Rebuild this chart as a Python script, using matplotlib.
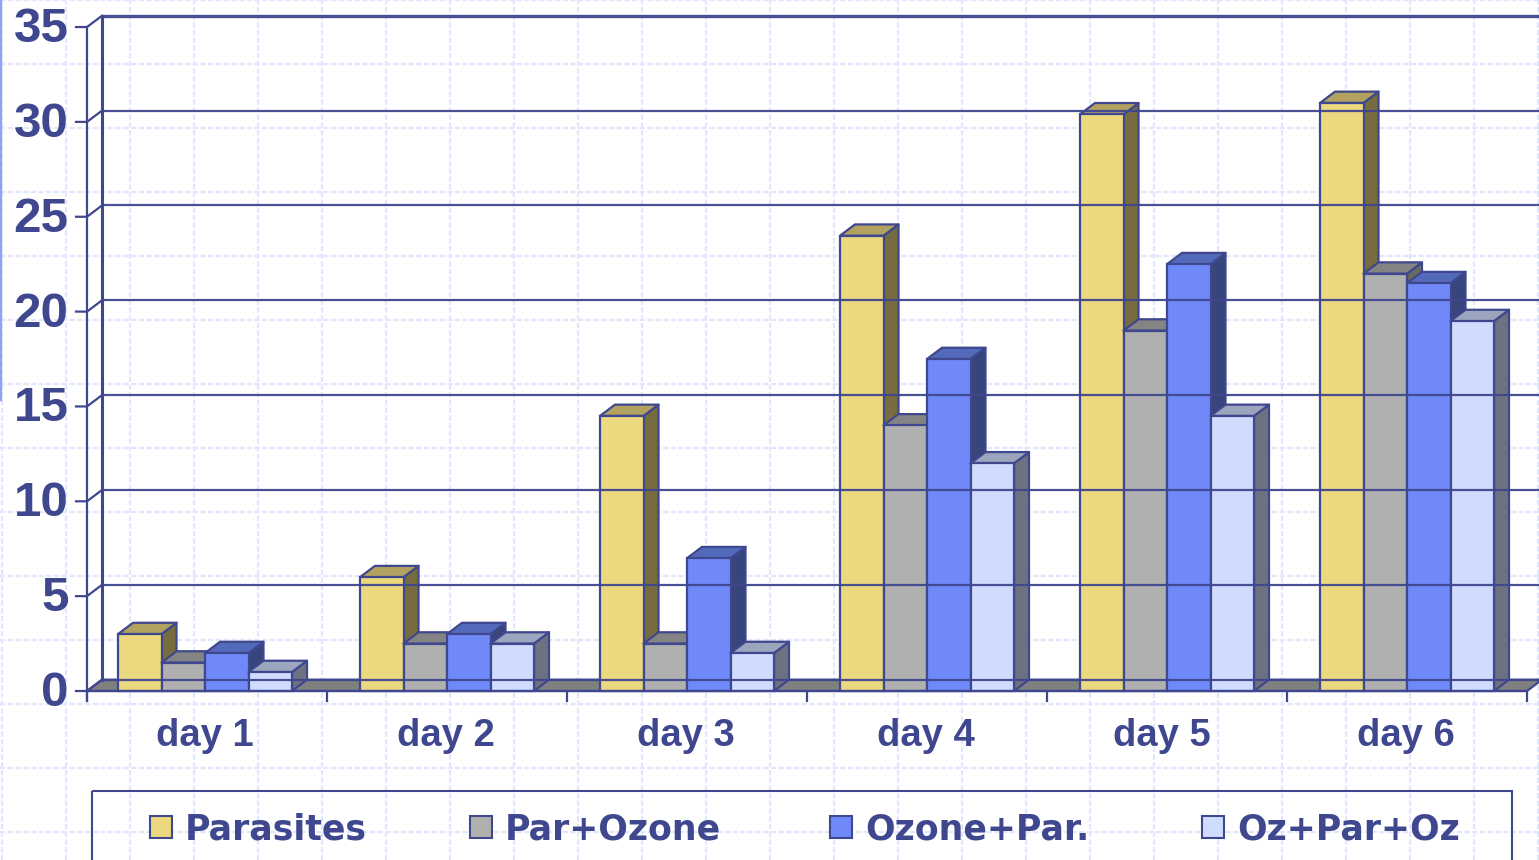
import matplotlib
matplotlib.use('Agg')
import matplotlib.pyplot as plt
from matplotlib.patches import Polygon, Rectangle

days = ['day 1', 'day 2', 'day 3', 'day 4', 'day 5', 'day 6']
parasites = [3, 6, 14.5, 24, 30.4, 31]
par_ozone = [1.5, 2.5, 2.5, 14, 19, 22]
ozone_par = [2, 3, 7, 17.5, 22.5, 21.5]
oz_par_oz = [1, 2.5, 2, 12, 14.5, 19.5]
names = ['Parasites', 'Par+Ozone', 'Ozone+Par.', 'Oz+Par+Oz']
yticks = [0, 5, 10, 15, 20, 25, 30, 35]

INK = '#3f478f'
# front, top, side
colors = [
    ('#ecd87f', '#b2a25f', '#776c40'),
    ('#b0b0b0', '#848484', '#6a6a5c'),
    ('#6f8af8', '#5369ba', '#38457c'),
    ('#cfdcfd', '#9ba5be', '#6e7280'),
]

W, H = 1539, 860
X0, Y0 = 87, 691       # pixel of the origin
XS, YS = 240, 18.97    # pixels per category / per unit
DX, DY = 15 / XS, 11.3 / YS  # depth of the 3d look
LW = 1.6

fig = plt.figure(figsize=(W / 100, H / 100), dpi=100, facecolor='white')

# background paper, legend: plain pixel coordinates
bg = fig.add_axes([0, 0, 1, 1])
bg.set_xlim(0, W)
bg.set_ylim(H, 0)
bg.axis('off')
for x in range(2, W, 64):
    bg.axvline(x, color='#dfe6fe', lw=1.5, ls=(0, (2.5, 1.2)))
for y in range(0, H, 64):
    bg.axhline(y, color='#dfe6fe', lw=1.5, ls=(0, (2.5, 1.2)))
bg.plot([1, 1], [0, 400], color='#8ea3f5', lw=1.6)

# chart axes in data units
ax = fig.add_axes([0, 0, 1, 1])
ax.patch.set_alpha(0)
ax.set_xlim(-X0 / XS, (W - X0) / XS)
ax.set_ylim((Y0 - H) / YS, Y0 / YS)
ax.axis('off')

n = len(days)

# floor
ax.add_patch(Polygon([(0, 0), (DX, DY), (n + DX, DY), (n, 0)], fc='#808080', ec=INK, lw=LW))

# walls, grid
for t in yticks:
    lw = 2.4 if t == 35 else LW
    ax.plot([DX, n + 1], [t + DY, t + DY], color=INK, lw=lw, alpha=0.95, solid_capstyle='butt')
    ax.plot([-11 / XS, 0, DX], [t, t, t + DY], color=INK, lw=LW)
    ax.text(-18.5 / XS, t - 2.5 / YS, str(t), ha='right', va='center', color=INK,
            fontsize=35.5, fontweight='bold', family='Liberation Sans')
ax.plot([DX, DX], [0 + DY, 35 + DY], color=INK, lw=2.2)
ax.plot([0, 0], [-10 / YS, 35], color=INK, lw=LW)


def draw_bar(x, w, h, cols):
    front, top, side = cols
    ax.add_patch(Polygon([(x + w, 0), (x + w + DX, DY), (x + w + DX, h + DY), (x + w, h)],
                         fc=side, ec=INK, lw=LW, joinstyle='round'))
    ax.add_patch(Polygon([(x, h), (x + DX, h + DY), (x + w + DX, h + DY), (x + w, h)],
                         fc=top, ec=INK, lw=LW, joinstyle='round'))
    ax.add_patch(Rectangle((x, 0), w, h, fc=front, ec=INK, lw=LW))


bar_w = 43.5 / XS
group_start = [31, 33, 33, 33, 33, 33]
series = [parasites, par_ozone, ozone_par, oz_par_oz]
for i in range(n):
    for j, vals in enumerate(series):
        draw_bar(i + group_start[i] / XS + j * bar_w, bar_w, vals[i], colors[j])

# x axis
ax.plot([0, n], [0, 0], color=INK, lw=LW)
for i in range(n + 1):
    ax.plot([i, i], [0, -10 / YS], color=INK, lw=LW)
label_x = [205, 446, 686, 926, 1162, 1406]
for lx, d in zip(label_x, days):
    ax.text((lx - X0) / XS, -45 / YS, d, ha='center', va='center', color=INK,
            fontsize=27.5, fontweight='bold', family='Liberation Sans')

# legend, box runs off the bottom of the picture
bg.add_patch(Rectangle((92, 791), 1420, 100, fc='none', ec=INK, lw=1.5, zorder=3))
swatch_x = [150, 470, 830, 1202]
for sx, name, cols in zip(swatch_x, names, colors):
    bg.add_patch(Rectangle((sx, 816), 22, 22, fc=cols[0], ec=INK, lw=1.5, zorder=3))
    bg.text(sx + 35, 829, name, ha='left', va='center', color=INK,
            fontsize=25, fontweight='bold', family='DejaVu Sans')

fig.savefig('out.png', dpi=100)
